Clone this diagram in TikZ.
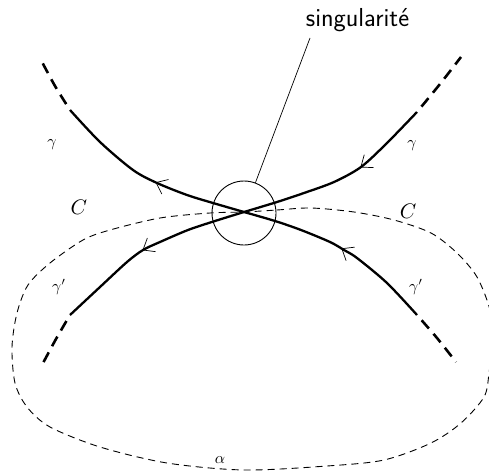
\documentclass[tikz,border=0pt]{standalone}
\usepackage{fontspec}
\usetikzlibrary{decorations.markings}
\tikzset{
  branch/.style={line width=2.3pt, line cap=butt},
  branchdash/.style={line width=2.6pt, line cap=butt, dash pattern=on 11pt off 7pt, dash phase=11pt},
  loopline/.style={line width=0.9pt, dash pattern=on 7pt off 5pt},
  fwdarrow/.style={postaction={decorate, decoration={markings, mark=at position #1 with {\draw[line width=0.7pt,solid] (-10pt,8pt) -- (0pt,0pt) -- (-10pt,-8pt);}}}},
  bckarrow/.style={postaction={decorate, decoration={markings, mark=at position #1 with {\draw[line width=0.7pt,solid] (10pt,8pt) -- (0pt,0pt) -- (10pt,-8pt);}}}},
  lbl/.style={inner sep=0pt, scale=1.6, transform shape},
  biglbl/.style={inner sep=0pt, scale=2.1, transform shape},
}
\begin{document}
\begin{tikzpicture}[x=1pt, y=-1pt]
\useasboundingbox (0,0) rectangle (489,473);
% dashed loop alpha
\draw[loopline] plot[smooth cycle] coordinates {(244,212) (277,210) (311,208) (354,212) (394,220) (431,233) (457,253) (477,277) (490,310) (492,340) (489,373) (484,397) (461,423) (431,443) (384,460) (327,466) (244,470) (167,463) (100,447) (50,427) (27,407) (15,383) (12,347) (17,313) (28,285) (50,263) (83,240) (110,230) (160,218) (210,213)};
% upper left branch
\draw[branch, fwdarrow=0.45] plot[smooth] coordinates {(244,212) (213,203) (187,195) (157,183) (133,170) (100,142) (70,110)};
\draw[branchdash] plot[smooth] coordinates {(70,110) (55,86) (41,60)};
% upper right branch
\draw[branch, bckarrow=0.615] plot[smooth] coordinates {(244,212) (277,202) (304,193) (334,182) (361,167) (387,143) (417,112)};
\draw[branchdash] plot[smooth] coordinates {(417,112) (440,84) (461,57)};
% lower left branch
\draw[branch, fwdarrow=0.525] plot[smooth] coordinates {(244,212) (215,221) (188,230) (160,242) (143,250) (127,262) (100,287) (70,315)};
\draw[branchdash] plot[smooth] coordinates {(70,315) (56,339) (42,365)};
% lower right branch
\draw[branch, bckarrow=0.51] plot[smooth] coordinates {(244,212) (275,221) (301,230) (330,242) (344,250) (357,258) (387,283) (417,315)};
\draw[branchdash] plot[smooth] coordinates {(417,315) (437,338) (456,362)};
% singularity circle and label
\node[circle, draw, line width=0.9pt, minimum size=64pt, inner sep=0pt] (sing) at (244,213) {};
\node[inner sep=0pt, anchor=base, font=\fontsize{26}{30}\selectfont\sffamily] (lab) at (357.5,27) {singularité};
\coordinate (lt) at (310,38);
\draw[line width=0.7pt] (lt) -- (sing);
% labels
\node[lbl] (g1) at (52,145) {$\gamma$};
\node[lbl] (g2) at (412,146) {$\gamma$};
\node[lbl] (g3) at (59,287) {$\gamma'$};
\node[lbl] (g4) at (416,287) {$\gamma'$};
\node[lbl] (al) at (220,460) {$\alpha$};
\node[biglbl] (c1) at (79,207) {$C$};
\node[biglbl] (c2) at (408,211) {$C$};
\end{tikzpicture}
\end{document}
